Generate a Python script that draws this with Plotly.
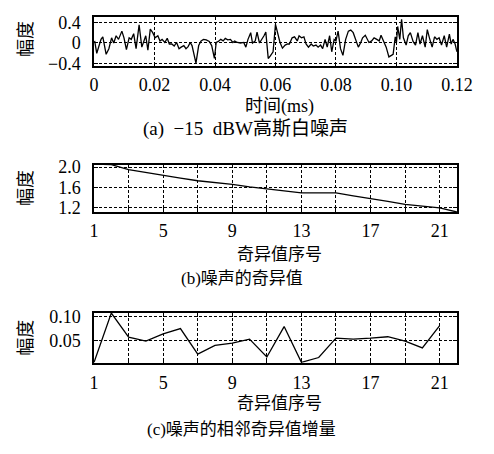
import plotly.graph_objects as go

# ---- data ----
noise_t = [0.0002,0.0009,0.0023,0.0029,0.0040,0.0049,0.0058,0.0065,0.0073,0.0081,0.0092,0.0099,0.0107,0.0116,0.0123,0.0131,0.0139,0.0149,0.0158,0.0171,0.0178,0.0186,0.0194,0.0202,0.0211,0.0218,0.0225,0.0234,0.0242,0.0249,0.0257,0.0265,0.0273,0.0281,0.0288,0.0297,0.0304,0.0311,0.0318,0.0324,0.0337,0.0346,0.0354,0.0362,0.0371,0.0381,0.0389,0.0398,0.0404,0.0411,0.0419,0.0427,0.0434,0.0442,0.0451,0.0459,0.0465,0.0474,0.0484,0.0495,0.0502,0.0509,0.0518,0.0524,0.0533,0.0539,0.0547,0.0556,0.0562,0.0568,0.0576,0.0583,0.0592,0.0600,0.0607,0.0615,0.0623,0.0632,0.0640,0.0646,0.0655,0.0663,0.0672,0.0678,0.0686,0.0694,0.0701,0.0709,0.0718,0.0725,0.0734,0.0741,0.0749,0.0756,0.0764,0.0771,0.0779,0.0786,0.0794,0.0800,0.0807,0.0815,0.0823,0.0832,0.0841,0.0849,0.0857,0.0865,0.0874,0.0882,0.0888,0.0897,0.0903,0.0909,0.0918,0.0926,0.0935,0.0943,0.0949,0.0958,0.0966,0.0975,0.0983,0.0989,0.0996,0.1000,0.1004,0.1011,0.1017,0.1023,0.1032,0.1039,0.1046,0.1055,0.1063,0.1071,0.1078,0.1086,0.1095,0.1102,0.1109,0.1118,0.1126,0.1134,0.1141,0.1149,0.1158,0.1166,0.1175,0.1181,0.1187,0.1194,0.1200]
noise_v = [0.04,-0.2,0.07,0.12,-0.22,-0.11,0.1,0.0,0.14,0.07,0.23,0.1,-0.13,0.1,0.07,0.18,-0.11,0.35,-0.08,0.14,-0.14,0.27,0.2,0.1,0.14,0.04,0.07,0.01,0.09,-0.02,-0.02,-0.06,0.01,-0.11,-0.08,-0.05,-0.11,-0.07,0.01,-0.05,-0.39,-0.05,0.04,0.07,0.06,0.03,-0.05,-0.3,0.01,0.03,0.07,0.04,0.09,0.06,0.07,0.01,0.04,0.01,0.0,0.01,-0.08,0.07,0.2,0.0,0.04,0.21,0.0,0.07,0.14,0.21,-0.3,-0.25,-0.17,0.36,0.19,0.01,-0.1,-0.04,-0.02,-0.02,0.1,0.12,0.04,0.14,0.1,0.12,-0.02,-0.08,-0.02,-0.06,-0.04,-0.08,-0.04,-0.11,0.07,-0.08,0.14,-0.17,0.07,0.04,0.23,-0.11,-0.24,0.07,0.23,0.25,0.2,0.06,-0.08,0.01,0.1,0.15,0.07,0.01,0.04,0.1,0.07,0.04,0.15,0.01,-0.08,-0.27,-0.24,-0.22,0.12,0.01,0.32,0.07,0.46,0.1,-0.04,0.14,0.2,0.03,-0.04,0.2,-0.02,0.14,-0.08,0.26,0.1,-0.08,0.12,0.07,0.1,-0.04,0.14,-0.08,0.17,-0.02,0.07,-0.02,-0.17]

sv_index = list(range(1, 23))
sv_values = [2.06,2.05,1.95,1.89,1.84,1.78,1.73,1.70,1.66,1.61,1.57,1.54,1.49,1.49,1.49,1.43,1.38,1.32,1.26,1.22,1.19,1.11]

inc_index = list(range(1, 22))
inc_values = [0.005,0.107,0.057,0.049,0.064,0.075,0.022,0.040,0.045,0.053,0.016,0.079,0.005,0.015,0.055,0.053,0.055,0.058,0.049,0.035,0.081]

a_xticks = [0, 0.02, 0.04, 0.06, 0.08, 0.10, 0.12]
a_xlabels = ["0", "0.02", "0.04", "0.06", "0.08", "0.10", "0.12"]
a_yticks = [-0.4, 0, 0.4]
a_ylabels = ["\u22120.4", "0", "0.4"]
idx_ticks = list(range(1, 22, 2))
idx_labels = [str(v) if (v - 1) % 4 == 0 else "" for v in idx_ticks]
b_yticks = [1.2, 1.6, 2.0]
b_ylabels = ["1.2", "1.6", "2.0"]
c_yticks = [0.05, 0.10]
c_ylabels = ["0.05", "0.10"]

ylab = "幅度"
xlab_a = "时间(ms)"
xlab_bc = "奇异值序号"
cap_a = "(a)  \u221215  dBW高斯白噪声"
cap_b = "(b)噪声的奇异值"
cap_c = "(c)噪声的相邻奇异值增量"

# ---- figure ----
W, H = 494, 454
FONT = "Liberation Serif, Noto Sans CJK SC, serif"
fig = go.Figure()
line = dict(color="black", width=1.3)
fig.add_trace(go.Scatter(x=noise_t, y=noise_v, mode="lines", line=line, xaxis="x", yaxis="y"))
fig.add_trace(go.Scatter(x=sv_index, y=sv_values, mode="lines", line=line, xaxis="x2", yaxis="y2"))
fig.add_trace(go.Scatter(x=inc_index, y=inc_values, mode="lines", line=line, xaxis="x3", yaxis="y3"))

def py(p):
    return 1 - p / H

xdom = [93 / W, 472 / W]
common = dict(showline=True, mirror="ticks", linecolor="black", linewidth=1.5,
              ticks="inside", ticklen=4, tickcolor="black", tickwidth=1,
              showgrid=True, gridcolor="black", gridwidth=1, griddash="3px,2px",
              zeroline=False, tickfont=dict(family=FONT, size=18, color="black"),
              fixedrange=True)

fig.update_layout(
    width=W, height=H, margin=dict(l=0, r=0, t=0, b=0),
    paper_bgcolor="white", plot_bgcolor="white", showlegend=False,
    xaxis=dict(domain=xdom, anchor="y", range=[0, 0.12], tickvals=a_xticks, ticktext=a_xlabels,
               ticklabelstandoff=2, **common),
    yaxis=dict(domain=[py(60.7), py(10)], anchor="x", range=[-0.44, 0.51], tickvals=a_yticks,
               ticktext=a_ylabels, ticklabelstandoff=8, **common),
    xaxis2=dict(domain=xdom, anchor="y2", range=[1, 22], tickvals=idx_ticks, ticktext=idx_labels,
                ticklabelstandoff=2, **common),
    yaxis2=dict(domain=[py(212), py(163)], anchor="x2", range=[1.11, 2.05], tickvals=b_yticks,
                ticktext=b_ylabels, ticklabelstandoff=8, **common),
    xaxis3=dict(domain=xdom, anchor="y3", range=[1, 22], tickvals=idx_ticks, ticktext=idx_labels,
                ticklabelstandoff=3, **common),
    yaxis3=dict(domain=[py(368), py(316.5)], anchor="x3", range=[0.004, 0.107], tickvals=c_yticks,
                ticktext=c_ylabels, ticklabelstandoff=8, **common),
)

def ann(text, x, y, size=17, angle=0):
    fig.add_annotation(text=text, x=x / W, y=py(y), xref="paper", yref="paper",
                       showarrow=False, font=dict(family=FONT, size=size, color="black"),
                       textangle=angle, xanchor="center", yanchor="middle")

ann(ylab, 22, 33, 18, -90)
ann(ylab, 22, 187, 18, -90)
ann(ylab, 22, 342, 18, -90)
ann(xlab_a, 287, 103, 18)
ann(cap_a, 251, 126, 19)
ann(xlab_bc, 287, 256, 17)
ann(cap_b, 247, 281, 17)
ann(xlab_bc, 287, 410, 17)
ann(cap_c, 247, 437, 17)

fig.write_html("out.html")
